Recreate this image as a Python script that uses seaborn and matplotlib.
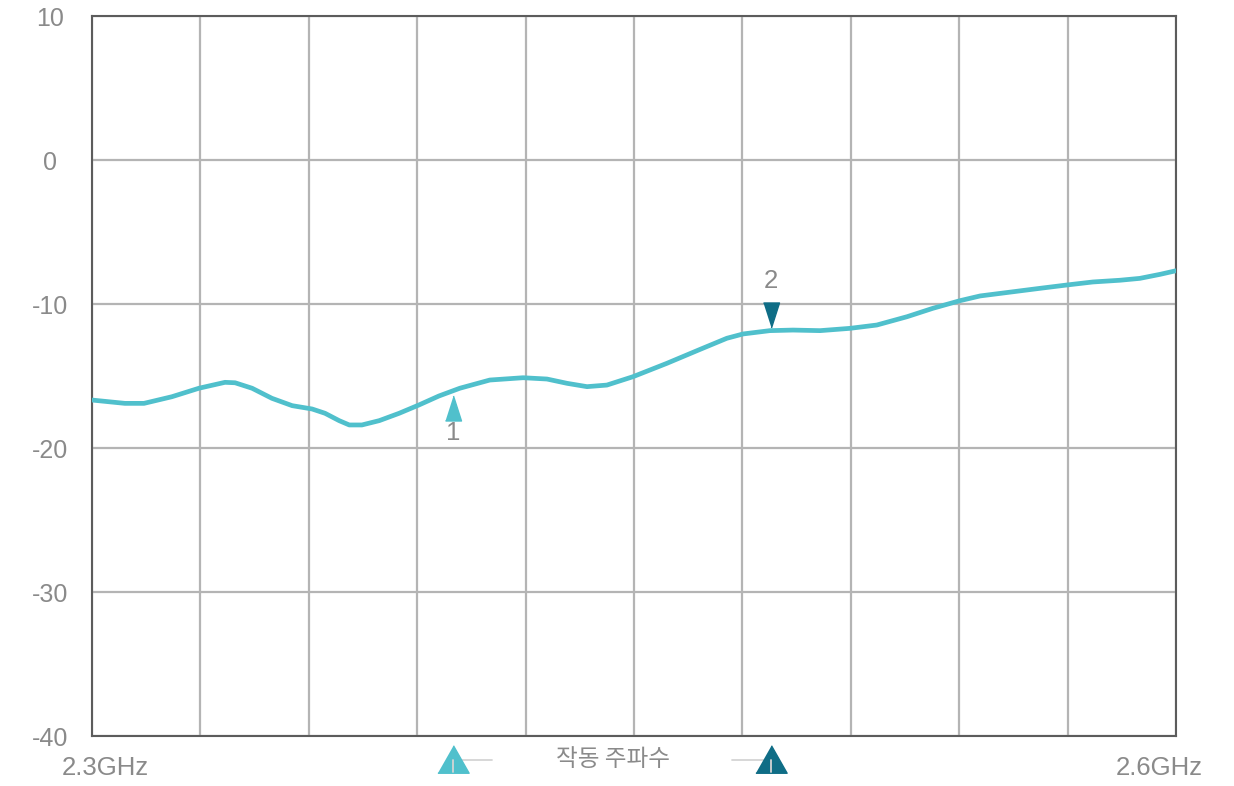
import numpy as np
import pandas as pd
import seaborn as sns
import matplotlib.pyplot as plt
import matplotlib.transforms as mtransforms

# trace (GHz, dB)
freq = [2.3000, 2.3091, 2.3144, 2.3221, 2.3296, 2.3368, 2.3396, 2.3443, 2.3498,
        2.3554, 2.3609, 2.3645, 2.3684, 2.3712, 2.3747, 2.3795, 2.3850, 2.3905,
        2.3960, 2.4018, 2.4101, 2.4193, 2.4259, 2.4315, 2.4370, 2.4425, 2.4497,
        2.4591, 2.4683, 2.4757, 2.4802, 2.4876, 2.4940, 2.5015, 2.5098, 2.5172,
        2.5256, 2.5327, 2.5402, 2.5458, 2.5549, 2.5624, 2.5698, 2.5770, 2.5845,
        2.5900, 2.5956, 2.6000]
level = [-16.67, -16.90, -16.90, -16.44, -15.85, -15.44, -15.47, -15.85, -16.55,
         -17.06, -17.29, -17.59, -18.10, -18.40, -18.40, -18.10, -17.59, -17.01,
         -16.39, -15.85, -15.28, -15.12, -15.21, -15.51, -15.74, -15.63, -15.05,
         -14.12, -13.15, -12.38, -12.08, -11.85, -11.81, -11.85, -11.69, -11.46,
         -10.88, -10.30, -9.77, -9.44, -9.15, -8.91, -8.68, -8.47, -8.35,
         -8.22, -7.94, -7.69]

marker_freq = [2.400, 2.488]
marker_level = [-17.19, -10.73]
marker_names = ['1', '2']

yticks = [-40, -30, -20, -10, 0, 10]
xgrid = [2.3 + 0.03 * k for k in range(11)]
band_label = '작동 주파수'
edge_labels = ['2.3GHz', '2.6GHz']

light = '#50c0cc'
dark = '#0f6d86'
txt = '#8a8a8a'

sns.set_style('white')
plt.rcParams['font.family'] = ['Liberation Sans', 'Noto Sans CJK KR', 'DejaVu Sans']

fig = plt.figure(figsize=(12.34, 7.86), dpi=100)
ax = fig.add_axes([92 / 1234, 50 / 786, 1084 / 1234, 720 / 786])

df = pd.DataFrame({'freq': freq, 'level': level})
sns.lineplot(data=df, x='freq', y='level', ax=ax, color=light, lw=3.4, zorder=3)

ax.set_xlim(2.3, 2.6)
ax.set_ylim(-40, 10)
ax.set_yticks(yticks)
ax.set_yticklabels([str(v) for v in yticks], ha='center')
ax.set_xticks(xgrid)
ax.set_xticklabels([''] * len(xgrid))
ax.grid(True, color='#b4b4b4', lw=1.6)
ax.set_axisbelow(True)
ax.tick_params(length=0, labelsize=18, labelcolor=txt)
ax.tick_params(axis='y', pad=30)
ax.set_xlabel('')
ax.set_ylabel('')
for s in ax.spines.values():
    s.set_color('#5c5c5c')
    s.set_linewidth(1.5)

# markers on the trace
up = [(-0.32, -0.5), (0.32, -0.5), (0, 0.5)]
down = [(-0.32, 0.5), (0.32, 0.5), (0, -0.5)]
ax.plot(marker_freq[0], marker_level[0], marker=up, ms=18, color=light, ls='none', zorder=4)
ax.plot(marker_freq[1], marker_level[1], marker=down, ms=18, color=dark, ls='none', zorder=4)
ax.text(marker_freq[0], marker_level[0] - 1.75, marker_names[0], ha='center', va='center',
        fontsize=18.5, color=txt)
ax.text(marker_freq[1], marker_level[1] + 2.3, marker_names[1], ha='center', va='center',
        fontsize=18.5, color=txt)

# band legend under the axes
tr = mtransforms.blended_transform_factory(ax.transData, ax.transAxes)
leg_up = [(-0.5, -0.44), (0.5, -0.44), (0, 0.44)]
ly = -0.0313
ax.plot([marker_freq[0], marker_freq[0] + 0.0108], [-0.0333, -0.0333], color='#d4d4d4',
        lw=1.3, transform=tr, clip_on=False)
ax.plot([marker_freq[1] - 0.0108, marker_freq[1]], [-0.0333, -0.0333], color='#d4d4d4',
        lw=1.3, transform=tr, clip_on=False)
ax.plot(marker_freq[0], ly, marker=leg_up, ms=22.5, color=light, transform=tr, clip_on=False)
ax.plot(marker_freq[1], ly, marker=leg_up, ms=22.5, color=dark, transform=tr, clip_on=False)
for f in marker_freq:
    ax.plot([f, f], [-0.0333, -0.05], color='#d4d4d4', lw=1.3, transform=tr,
            clip_on=False, zorder=5)
ax.text(0.4806, -0.0333, band_label, transform=ax.transAxes, ha='center', va='center',
        fontsize=17, color=txt, family=['Noto Sans CJK KR', 'DejaVu Sans'])
ax.text(0.012, -0.0444, edge_labels[0], transform=ax.transAxes, ha='center', va='center',
        fontsize=18.5, color=txt)
ax.text(0.985, -0.0444, edge_labels[1], transform=ax.transAxes, ha='center', va='center',
        fontsize=18.5, color=txt)

fig.savefig('out.png', dpi=100)
